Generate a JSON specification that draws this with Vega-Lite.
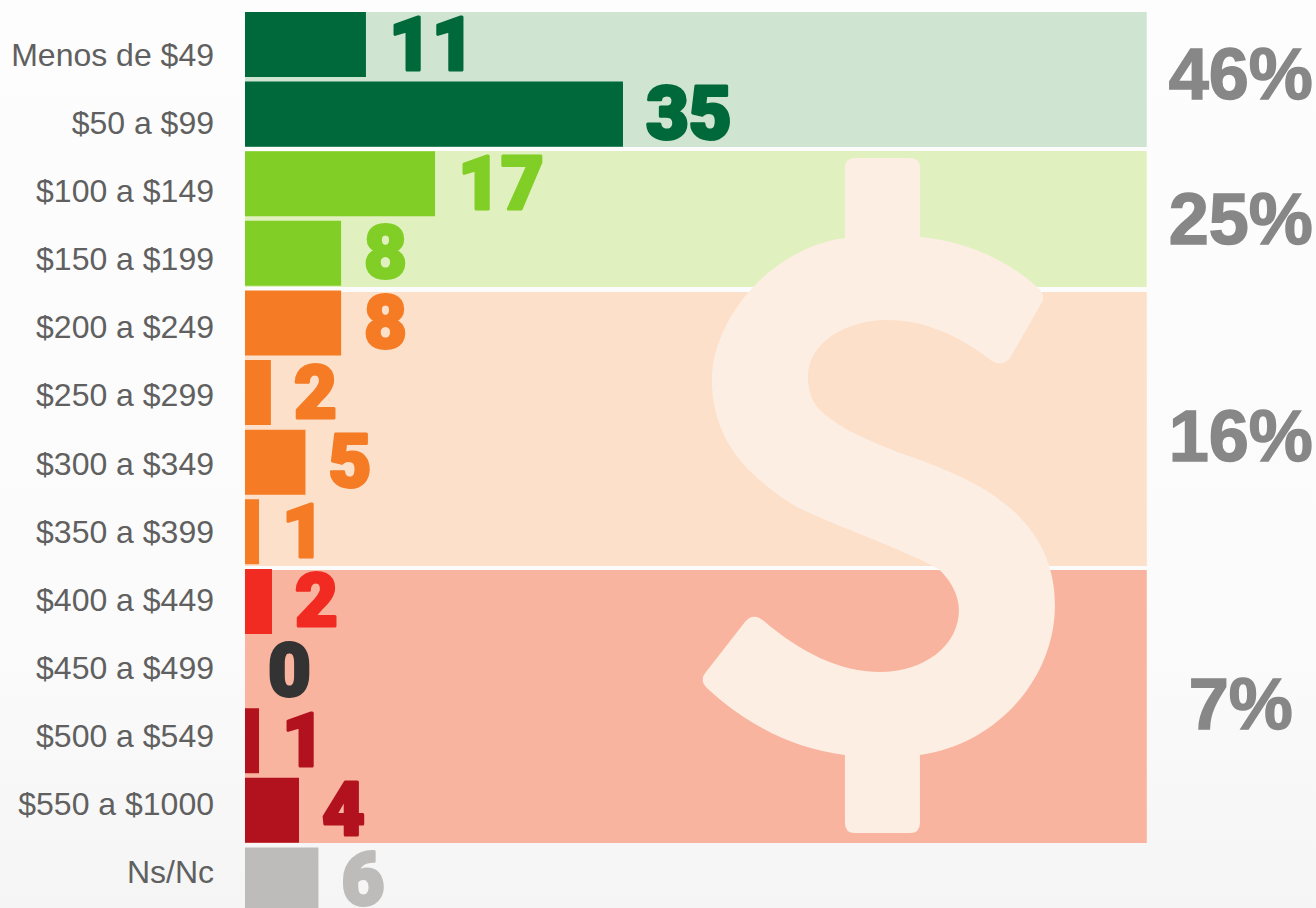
{
"$schema":"https://vega.github.io/schema/vega-lite/v6.json",
"width":1316,"height":908,"padding":0,"autosize":{"type":"none"},
"background":"#ffffff",
"datasets":{
"filas":[
{"rango":"Menos de $49","casos":11,"base":0,"largo":11.2,"grupo":"a","eje":-2.87},
{"rango":"$50 a $99","casos":35,"base":0,"largo":35,"grupo":"a","eje":-2.87},
{"rango":"$100 a $149","casos":17,"base":0,"largo":17.6,"grupo":"b","eje":-2.87},
{"rango":"$150 a $199","casos":8,"base":0,"largo":8.9,"grupo":"b","eje":-2.87},
{"rango":"$200 a $249","casos":8,"base":0,"largo":8.9,"grupo":"c","eje":-2.87},
{"rango":"$250 a $299","casos":2,"base":0,"largo":2.4,"grupo":"c","eje":-2.87},
{"rango":"$300 a $349","casos":5,"base":0,"largo":5.6,"grupo":"c","eje":-2.87},
{"rango":"$350 a $399","casos":1,"base":0,"largo":1.3,"grupo":"c","eje":-2.87},
{"rango":"$400 a $449","casos":2,"base":0,"largo":2.5,"grupo":"d","eje":-2.87},
{"rango":"$450 a $499","casos":0,"base":0,"largo":0,"grupo":"e","eje":-2.87},
{"rango":"$500 a $549","casos":1,"base":0,"largo":1.3,"grupo":"f","eje":-2.87},
{"rango":"$550 a $1000","casos":4,"base":0,"largo":5,"grupo":"f","eje":-2.87},
{"rango":"Ns/Nc","casos":6,"base":0,"largo":6.8,"grupo":"g","eje":-2.87}
],
"bandas":[
{"pct":"46%","ini":0,"fin":1.951,"fila":0.94,"grupo":"h","base":0,"tope":83.5,"xpct":92.2},
{"pct":"25%","ini":2.009,"fin":3.974,"fila":3.03,"grupo":"i","base":0,"tope":83.5,"xpct":92.2},
{"pct":"16%","ini":4.046,"fin":8.006,"fila":6.17,"grupo":"j","base":0,"tope":83.5,"xpct":92.2},
{"pct":"7%","ini":8.064,"fin":12.009,"fila":10.04,"grupo":"k","base":0,"tope":83.5,"xpct":92.2}
]
},
"layer":[
{"data":{"values":[{"a":-22.685,"b":99.17,"c":-0.173,"d":12.948}]},
 "mark":{"type":"rect","fill":{"gradient":"linear","x1":0,"y1":0,"x2":0,"y2":1,"stops":[{"offset":0,"color":"#fdfdfd"},{"offset":0.7,"color":"#fbfbfb"},{"offset":1,"color":"#f5f5f5"}]}},
 "encoding":{
  "x":{"field":"a","type":"quantitative","scale":{"domain":[-22.685,99.17],"nice":false,"zero":false},"axis":null},
  "x2":{"field":"b"},
  "y":{"field":"c","type":"quantitative","scale":{"domain":[-0.173,12.948],"range":[0,908],"nice":false,"zero":false},"axis":null},
  "y2":{"field":"d"}}},
{"data":{"name":"bandas"},
 "mark":{"type":"rect"},
 "encoding":{
  "x":{"field":"base","type":"quantitative","scale":{"domain":[-22.685,99.17],"nice":false,"zero":false},"axis":null},
  "x2":{"field":"tope"},
  "y":{"field":"ini","type":"quantitative","scale":{"domain":[-0.173,12.948],"range":[0,908],"nice":false,"zero":false},"axis":null},
  "y2":{"field":"fin"},
  "fill":{"field":"grupo","type":"nominal","legend":null,"scale":{"domain":["a","b","c","d","e","f","g","h","i","j","k"],"range":["#00693b","#80ce26","#f57b25","#f12a22","#333333","#b2121e","#bdbcba","#cfe5d2","#e0f1bf","#fce0ca","#f9b49f"]}}}},
{"data":{"values":[{"x":58.7,"fila":6.987}]},
 "mark":{"type":"point","filled":true,"opacity":1,"size":4,"strokeWidth":0,"fill":"#fdeee4","shape":"M -34 -257.5 L -34 -327.5 Q -34 -337.5 -24 -337.5 L 31 -337.5 Q 41 -337.5 41 -327.5 L 41 -258.5 C 84 -254.5 126 -237.5 158 -208.5 Q 168 -200.5 162 -191.5 L 131 -137.5 Q 124 -128.5 113 -134.5 C 79 -161.5 43 -175.5 9 -175.5 C -34 -175.5 -71 -152.5 -71 -118.5 C -71 -103.5 -66 -92.5 -59 -85.5 C -39 -65.5 1 -49.5 41 -35.5 C 86 -18.5 176 14.5 176 109.5 C 176 184.5 116 249.5 41 259.5 L 41 327.5 Q 41 337.5 31 337.5 L -24 337.5 Q -34 337.5 -34 327.5 L -34 259.5 C -89 252.5 -134 227.5 -172 192.5 Q -180 184.5 -173 176.5 L -134 126.5 Q -126 116.5 -115 125.5 C -79 156.5 -39 176.5 1 176.5 C 46 176.5 80 149.5 80 114.5 C 80 99.5 71 82.5 58 72.5 C 21 52.5 -39 32.5 -82 11.5 C -94 4.5 -109 -5.5 -127 -22.5 C -154 -48.5 -167 -80.5 -167 -115.5 C -167 -175.5 -109 -247.5 -34 -257.5 Z"},
 "encoding":{
  "x":{"field":"x","type":"quantitative","scale":{"domain":[-22.685,99.17],"nice":false,"zero":false},"axis":null},
  "y":{"field":"fila","type":"quantitative","scale":{"domain":[-0.173,12.948],"range":[0,908],"nice":false,"zero":false},"axis":null}}},
{"data":{"name":"filas"},
 "mark":{"type":"rect"},
 "encoding":{
  "x":{"field":"base","type":"quantitative","scale":{"domain":[-22.685,99.17],"nice":false,"zero":false},"axis":null},
  "x2":{"field":"largo"},
  "y":{"field":"rango","type":"nominal","sort":null,"scale":{"type":"band","range":[9.7,914.7],"paddingInner":0.066,"paddingOuter":0.033},"axis":null},
  "fill":{"field":"grupo","type":"nominal","legend":null,"scale":{"domain":["a","b","c","d","e","f","g","h","i","j","k"],"range":["#00693b","#80ce26","#f57b25","#f12a22","#333333","#b2121e","#bdbcba","#cfe5d2","#e0f1bf","#fce0ca","#f9b49f"]}}}},
{"data":{"name":"filas"},
 "mark":{"type":"text","font":"Roboto","fontWeight":900,"fontSize":74,"align":"left","baseline":"middle","dx":23,"dy":3,"strokeWidth":3,"strokeJoin":"round"},
 "encoding":{
  "x":{"field":"largo","type":"quantitative","scale":{"domain":[-22.685,99.17],"nice":false,"zero":false},"axis":null},
  "y":{"field":"rango","type":"nominal","sort":null,"scale":{"type":"band","range":[9.7,914.7],"paddingInner":0.066,"paddingOuter":0.033},"axis":null},
  "text":{"field":"casos","type":"quantitative"},
  "fill":{"field":"grupo","type":"nominal","legend":null,"scale":{"domain":["a","b","c","d","e","f","g","h","i","j","k"],"range":["#00693b","#80ce26","#f57b25","#f12a22","#333333","#b2121e","#bdbcba","#cfe5d2","#e0f1bf","#fce0ca","#f9b49f"]}},
  "stroke":{"field":"grupo","type":"nominal","legend":null,"scale":{"domain":["a","b","c","d","e","f","g"],"range":["#00693b","#80ce26","#f57b25","#f12a22","#333333","#b2121e","#bdbcba"]}}}},
{"data":{"name":"filas"},
 "mark":{"type":"text","font":"Liberation Sans","fontSize":32,"align":"right","baseline":"middle","fill":"#606060"},
 "encoding":{
  "x":{"field":"eje","type":"quantitative","scale":{"domain":[-22.685,99.17],"nice":false,"zero":false},"axis":null},
  "y":{"field":"rango","type":"nominal","sort":null,"scale":{"type":"band","range":[22,907]},"axis":null},
  "text":{"field":"rango","type":"nominal"}}},
{"data":{"name":"bandas"},
 "mark":{"type":"text","font":"Liberation Sans","fontWeight":"bold","fontSize":72,"align":"center","baseline":"middle","fill":"#878787","stroke":"#878787","strokeWidth":1.5},
 "encoding":{
  "x":{"field":"xpct","type":"quantitative","scale":{"domain":[-22.685,99.17],"nice":false,"zero":false},"axis":null},
  "y":{"field":"fila","type":"quantitative","scale":{"domain":[-0.173,12.948],"range":[0,908],"nice":false,"zero":false},"axis":null},
  "text":{"field":"pct","type":"nominal"}}}
],
"resolve":{"scale":{"y":"independent"}},
"config":{"view":{"stroke":null}}
}
